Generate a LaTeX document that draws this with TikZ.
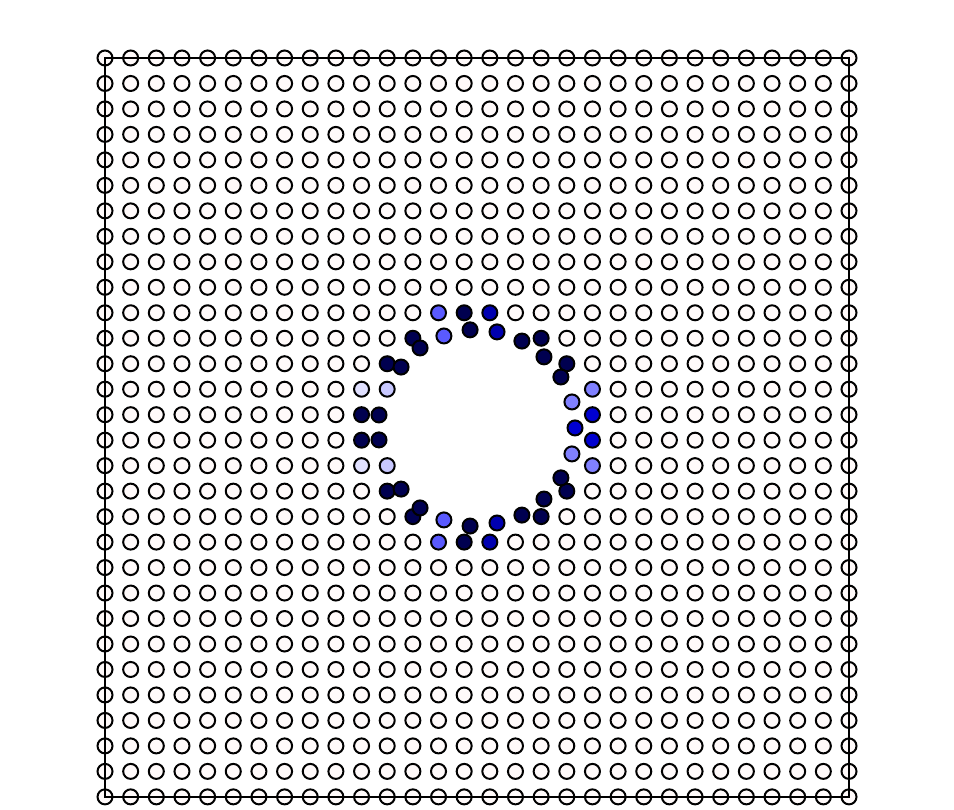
\documentclass[tikz,border=0pt]{standalone}
\usepackage{tikz}
\definecolor{atomwhite}{RGB}{255,250,250}
\definecolor{navyblue}{RGB}{0,0,80}
\definecolor{deepblue}{RGB}{0,0,176}
\definecolor{brightblue}{RGB}{0,0,208}
\definecolor{midblue}{RGB}{90,90,255}
\definecolor{paleblue}{RGB}{128,128,255}
\definecolor{lightblue}{RGB}{200,200,255}
\definecolor{faintblue}{RGB}{224,224,255}

\begin{document}
\begin{tikzpicture}[x=0.7697cm,y=-0.7644cm,
    atom/.style={circle,draw=black,line width=0.06cm,inner sep=0pt,minimum size=0.45cm,fill=#1},
    atom/.default=atomwhite]
    \useasboundingbox (-4.093,-2.276) rectangle (33.093,29.513);

    \foreach \j in {0,...,29}{
      \foreach \i in {0,...,29}{
        \pgfmathtruncatemacro{\hole}{and(and(abs(\i-14.5)<=4.5,abs(\j-14.5)<=4.5),abs(\i-14.5)+abs(\j-14.5)<=6)}
        \ifnum\hole=0
          \node[atom] (a-\i-\j) at (\i,\j) {};
        \fi
      }
    }

    \foreach \i/\j/\c [count=\k] in {13/10/midblue,14/10/navyblue,15/10/deepblue,16/10/atomwhite,
        12/11/navyblue,17/11/navyblue,11/12/navyblue,18/12/navyblue,
        10/13/faintblue,11/13/lightblue,19/13/paleblue,
        10/14/navyblue,19/14/brightblue,10/15/navyblue,19/15/brightblue,
        10/16/faintblue,11/16/lightblue,19/16/paleblue,
        11/17/navyblue,18/17/navyblue,12/18/navyblue,17/18/navyblue,
        13/19/midblue,14/19/navyblue,15/19/deepblue,16/19/atomwhite}
      \node[atom=\c] (g-\k) at (\i,\j) {};

    \foreach \i/\j/\c [count=\k] in {12.28/11.38/navyblue,13.21/10.91/midblue,14.23/10.67/navyblue,
        15.28/10.75/deepblue,16.25/11.11/navyblue,17.11/11.73/navyblue,
        11.54/12.13/navyblue,17.77/12.52/navyblue,18.20/13.50/paleblue,
        10.68/14.01/navyblue,18.32/14.52/brightblue,10.68/14.99/navyblue,
        18.20/15.54/paleblue,17.77/16.48/navyblue,11.54/16.92/navyblue,
        17.11/17.31/navyblue,12.28/17.66/navyblue,13.21/18.13/midblue,
        14.23/18.37/navyblue,15.28/18.25/deepblue,16.25/17.94/navyblue}
      \node[atom=\c] (d-\k) at (\i,\j) {};

    \draw[line width=0.06cm] (a-0-0.center) rectangle (a-29-29.center);
\end{tikzpicture}
\end{document}
